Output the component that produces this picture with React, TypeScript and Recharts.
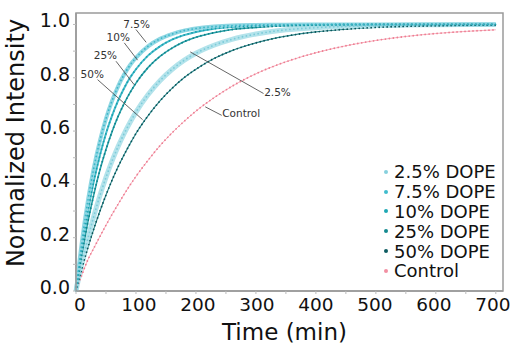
import React from 'react';
import {
  LineChart, Line, XAxis, YAxis, Legend, ReferenceArea, ReferenceLine, ReferenceDot,
} from 'recharts';

// time in minutes
const TIME = [0, 10, 20, 30, 40, 50, 60, 70, 80, 90, 100, 120, 140, 160, 180, 200, 230, 260, 300, 350, 400, 450, 500, 550, 600, 650, 700];
const DOPE_2_5 = [0, 0.105, 0.199, 0.283, 0.359, 0.426, 0.487, 0.541, 0.589, 0.632, 0.671, 0.736, 0.789, 0.831, 0.865, 0.892, 0.922, 0.944, 0.964, 0.98, 0.988, 0.993, 0.996, 0.998, 0.999, 1, 1];
const DOPE_7_5 = [0, 0.188, 0.341, 0.465, 0.565, 0.647, 0.713, 0.767, 0.811, 0.847, 0.875, 0.918, 0.946, 0.964, 0.977, 0.985, 0.992, 0.996, 0.998, 0.999, 1, 1, 1, 1, 1, 1, 1];
const DOPE_10 = [0, 0.164, 0.3, 0.415, 0.51, 0.591, 0.657, 0.713, 0.76, 0.8, 0.832, 0.883, 0.918, 0.943, 0.96, 0.972, 0.984, 0.99, 0.995, 0.998, 0.999, 1, 1, 1, 1, 1, 1];
const DOPE_25 = [0, 0.141, 0.261, 0.365, 0.455, 0.531, 0.597, 0.654, 0.702, 0.744, 0.78, 0.838, 0.88, 0.911, 0.935, 0.952, 0.969, 0.981, 0.989, 0.995, 0.998, 0.999, 1, 1, 1, 1, 1];
const DOPE_50 = [0, 0.085, 0.164, 0.235, 0.3, 0.36, 0.415, 0.465, 0.51, 0.552, 0.591, 0.657, 0.713, 0.76, 0.8, 0.832, 0.872, 0.902, 0.931, 0.956, 0.972, 0.982, 0.989, 0.993, 0.995, 0.997, 0.998];
const CONTROL = [0, 0.062, 0.118, 0.162, 0.205, 0.247, 0.287, 0.325, 0.362, 0.397, 0.43, 0.49, 0.545, 0.593, 0.636, 0.675, 0.725, 0.768, 0.815, 0.86, 0.894, 0.92, 0.94, 0.955, 0.966, 0.974, 0.98];

const SERIES_NAMES = ['2.5% DOPE', '7.5% DOPE', '10% DOPE', '25% DOPE', '50% DOPE', 'Control'];
const TIME_TICKS = [0, 50, 100, 150, 200, 250, 300, 350, 400, 450, 500, 550, 600, 650, 700];
const INTENSITY_TICKS = [0, 0.1, 0.2, 0.3, 0.4, 0.5, 0.6, 0.7, 0.8, 0.9, 1.0];

// curve annotations: label text, label position, leader line ends
const NOTE_TEXT = ['7.5%', '10%', '25%', '50%', '2.5%', 'Control'];
const NOTE_AT = [[101, 1.0], [70.5, 0.951], [49, 0.883], [27, 0.814], [336, 0.744], [275.5, 0.667]];
const NOTE_FROM = [[100, 0.981], [80.5, 0.931], [66.7, 0.862], [36, 0.793], [190.5, 0.897], [215.5, 0.691]];
const NOTE_TO = [[117, 0.933], [102.7, 0.866], [97, 0.774], [111, 0.643], [312.7, 0.741], [243, 0.659]];

const KEYS = ['d2_5', 'd7_5', 'd10', 'd25', 'd50', 'ctrl'];
const BAND = ['#b3e3eb', '#8fd7e3', '#45bccb', '#2ba3ab', '#2f8a8f', '#f7b3bf'];
const BAND_W = [5, 4, 2, 1.6, 1.2, 1];
const DOTS = ['#7ccbd9', '#3cb6c8', '#1a9fad', '#0f8188', '#0b555a', '#ee7d92'];
const LEGEND_DOT = ['#86d0dd', '#3fbccd', '#1ea8b4', '#14898f', '#0d5c61', '#f28fa2'];
const DRAW_ORDER = [5, 4, 0, 3, 2, 1];

const FONT = 'DejaVu Sans';
const X_MAX = 712;
const Y_MAX = 1.043;

const data = TIME.map((t, i) => ({
  t,
  d2_5: DOPE_2_5[i],
  d7_5: DOPE_7_5[i],
  d10: DOPE_10[i],
  d25: DOPE_25[i],
  d50: DOPE_50[i],
  ctrl: CONTROL[i],
}));

const XTick = (props: any) => {
  const { x, y, payload } = props;
  if (payload.value % 100 !== 0) return <g />;
  // labels sit a little right of their ticks on the left, drifting back towards the right end
  const dx = 4 - (payload.value / 700) * 7;
  return (
    <text x={x + dx} y={y + 14} textAnchor="middle" fontSize={18.5} fontFamily={FONT} fill="#111">
      {payload.value}
    </text>
  );
};

const YTick = (props: any) => {
  const { x, y, payload } = props;
  if (Math.round(payload.value * 10) % 2 !== 0) return <g />;
  return (
    <text x={x} y={y + 3} textAnchor="end" fontSize={19} fontFamily={FONT} fill="#111">
      {payload.value.toFixed(1)}
    </text>
  );
};

const XTitle = (props: any) => {
  const vb = props.viewBox;
  return (
    <text x={vb.x + vb.width / 2 - 5} y={340} textAnchor="middle" fontSize={23} fontFamily={FONT} fill="#111">
      Time (min)
    </text>
  );
};

const YTitle = (props: any) => {
  const vb = props.viewBox;
  const cx = 24;
  const cy = vb.y + vb.height / 2 - 9;
  return (
    <text x={cx} y={cy} transform={`rotate(-90 ${cx} ${cy})`} textAnchor="middle" fontSize={24} fontFamily={FONT} fill="#111">
      Normalized Intensity
    </text>
  );
};

const LegendBox = () => (
  <div style={{ fontFamily: FONT, fontSize: 18, color: '#111' }}>
    {SERIES_NAMES.map((name, i) => (
      <div key={name} style={{ display: 'flex', alignItems: 'center', height: 19.8, whiteSpace: 'nowrap' }}>
        <span style={{ width: 4, height: 4, borderRadius: 2, background: LEGEND_DOT[i], marginRight: 6, display: 'inline-block' }} />
        {name}
      </div>
    ))}
  </div>
);

export default function App() {
  return (
    <div style={{ position: 'absolute', left: 0, top: 0, background: '#fff' }}>
      <LineChart width={514} height={350} data={data} margin={{ top: 13, right: 11, bottom: 0, left: 0 }}>
        <ReferenceArea x1={0} x2={X_MAX} y1={0} y2={Y_MAX} fill="none" stroke="#9a9a9a" strokeWidth={1.5} ifOverflow="visible" />
        <XAxis
          type="number"
          dataKey="t"
          domain={[0, X_MAX]}
          ticks={TIME_TICKS}
          interval={0}
          height={59}
          tickSize={3}
          tickMargin={3}
          axisLine={{ stroke: '#9a9a9a', strokeWidth: 1.5 }}
          tickLine={{ stroke: '#bbb' }}
          tick={(p: any) => <XTick {...p} />}
          label={{ content: (p: any) => <XTitle {...p} /> }}
        />
        <YAxis
          type="number"
          domain={[0, Y_MAX]}
          ticks={INTENSITY_TICKS}
          interval={0}
          width={76}
          tickSize={3}
          tickMargin={3}
          axisLine={{ stroke: '#9a9a9a', strokeWidth: 1.5 }}
          tickLine={{ stroke: '#bbb' }}
          tick={(p: any) => <YTick {...p} />}
          label={{ content: (p: any) => <YTitle {...p} /> }}
        />
        {DRAW_ORDER.map((i) => (
          <Line
            key={`band-${KEYS[i]}`}
            type="monotone"
            dataKey={KEYS[i]}
            stroke={BAND[i]}
            strokeWidth={BAND_W[i]}
            dot={false}
            activeDot={false}
            legendType="none"
            isAnimationActive={false}
          />
        ))}
        {DRAW_ORDER.map((i) => (
          <Line
            key={`dots-${KEYS[i]}`}
            type="monotone"
            dataKey={KEYS[i]}
            stroke={DOTS[i]}
            strokeWidth={1.8}
            strokeDasharray="0 4"
            strokeLinecap="round"
            dot={false}
            activeDot={false}
            legendType="none"
            isAnimationActive={false}
          />
        ))}
        {NOTE_TEXT.map((txt, i) => (
          <ReferenceLine
            key={`leader-${txt}`}
            segment={[{ x: NOTE_FROM[i][0], y: NOTE_FROM[i][1] }, { x: NOTE_TO[i][0], y: NOTE_TO[i][1] }]}
            stroke="#555"
            strokeWidth={0.9}
          />
        ))}
        {NOTE_TEXT.map((txt, i) => (
          <ReferenceDot
            key={`note-${txt}`}
            x={NOTE_AT[i][0]}
            y={NOTE_AT[i][1]}
            r={0}
            fill="none"
            stroke="none"
            label={{ value: txt, position: 'center', fontSize: 10.5, fill: '#333', fontFamily: FONT }}
          />
        ))}
        <Legend
          layout="vertical"
          align="center"
          verticalAlign="middle"
          wrapperStyle={{ left: 384, top: 162, width: 130 }}
          content={() => <LegendBox />}
        />
      </LineChart>
    </div>
  );
}
